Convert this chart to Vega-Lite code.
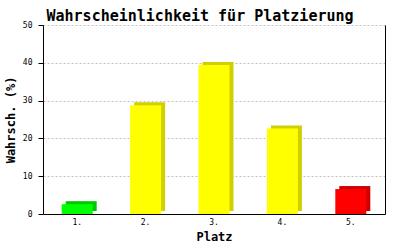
{
  "$schema": "https://vega.github.io/schema/vega-lite/v6.json",
  "width": 342,
  "height": 189,
  "autosize": "none",
  "padding": {"left": 43, "top": 25, "right": 15, "bottom": 36},
  "background": "white",
  "title": {
    "text": "Wahrscheinlichkeit für Platzierung",
    "font": "DejaVu Sans Mono",
    "fontSize": 15,
    "fontWeight": "bold",
    "color": "black",
    "dx": -14,
    "offset": 0,
    "dy": 3
  },
  "data": {
    "values": [
      {"Platz": "1.", "p": 2.6},
      {"Platz": "2.", "p": 28.8},
      {"Platz": "3.", "p": 39.4},
      {"Platz": "4.", "p": 22.6},
      {"Platz": "5.", "p": 6.6}
    ]
  },
  "encoding": {
    "x": {
      "field": "Platz",
      "type": "nominal",
      "sort": null,
      "scale": {"paddingInner": 0, "paddingOuter": 0},
      "axis": {
        "labelAngle": 0,
        "ticks": false,
        "domainColor": "black",
        "labelFont": "DejaVu Sans Mono",
        "labelFontSize": 8,
        "labelColor": "black",
        "labelPadding": 4,
        "title": "Platz",
        "titleFont": "DejaVu Sans Mono",
        "titleFontSize": 12,
        "titleFontWeight": "bold",
        "titleColor": "black",
        "titlePadding": 5
      }
    },
    "y": {
      "field": "p",
      "type": "quantitative",
      "scale": {"domain": [0, 50]}
    }
  },
  "layer": [
    {
      "mark": {"type": "bar", "size": 31, "xOffset": 4, "yOffset": -3, "y2Offset": 0},
      "encoding": {
        "y": {
          "field": "p",
          "type": "quantitative",
          "axis": {
            "orient": "right",
            "labels": false,
            "ticks": false,
            "grid": false,
            "title": null,
            "domainColor": "black"
          }
        },
        "color": {
          "field": "Platz",
          "type": "nominal",
          "scale": {"domain": ["1.", "2.", "3.", "4.", "5."], "range": ["#00c800", "#d0d000", "#d0d000", "#d0d000", "#cc0000"]},
          "legend": null
        }
      }
    },
    {
      "mark": {"type": "bar", "size": 31},
      "encoding": {
        "y": {
          "field": "p",
          "type": "quantitative",
          "axis": {
            "orient": "left",
            "values": [0, 10, 20, 30, 40, 50],
            "domainColor": "black",
            "tickColor": "black",
            "tickSize": 5,
            "labelFont": "DejaVu Sans Mono",
            "labelFontSize": 8,
            "labelColor": "black",
            "labelPadding": 6,
            "grid": true,
            "gridColor": "#c0c0c0",
            "gridDash": [2, 2],
            "gridOpacity": 1,
            "title": "Wahrsch. (%)",
            "titleFont": "DejaVu Sans Mono",
            "titleFontSize": 12,
            "titleFontWeight": "bold",
            "titleColor": "black",
            "titlePadding": 5
          }
        },
        "color": {
          "field": "Platz",
          "type": "nominal",
          "scale": {"domain": ["1.", "2.", "3.", "4.", "5."], "range": ["#00ff00", "#ffff00", "#ffff00", "#ffff00", "#ff0000"]},
          "legend": null
        }
      }
    }
  ],
  "resolve": {"scale": {"color": "independent"}, "axis": {"y": "independent"}},
  "config": {"view": {"stroke": null}}
}
